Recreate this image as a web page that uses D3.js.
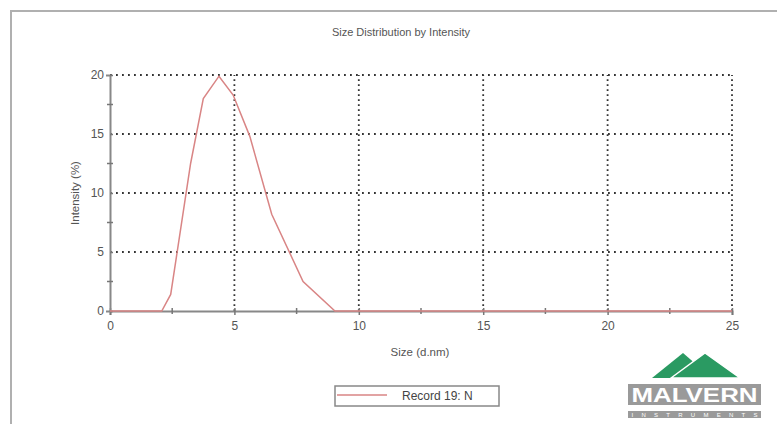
<!DOCTYPE html>
<html>
<head>
<meta charset="utf-8">
<script src="https://cdn.jsdelivr.net/npm/d3@7"></script>
<style>
  html, body { margin: 0; padding: 0; background: #fff; overflow: hidden; }
  svg { display: block; font-family: "Liberation Sans", Arial, sans-serif; }
</style>
</head>
<body>
<div id="chart"></div>
<script>
// Tamaños (d.nm) y su intensidad (%)
const sizes = [0, 2.08, 2.44, 3.24, 3.75, 4.38, 4.95, 5.62, 6.5, 7.76, 9.04, 25];
const intensity = [0, 0, 1.4, 12.5, 18.0, 19.9, 18.3, 14.8, 8.2, 2.5, 0, 0];
const xTicks = [0, 5, 10, 15, 20, 25];
const yTicks = [0, 5, 10, 15, 20];
const xMinor = [2.5, 7.5, 12.5, 17.5, 22.5];
const yMinor = [2.5, 7.5, 12.5, 17.5];
const seriesName = "Record 19: N";

const width = 777, height = 424;
const svg = d3.select("#chart").append("svg")
    .attr("width", width)
    .attr("height", height);

// marco exterior (solo arriba e izquierda se ven)
svg.append("path")
    .attr("d", `M11,${height} L11,11 L${width},11`)
    .attr("fill", "none")
    .attr("stroke", "#b0b0b0")
    .attr("stroke-width", 2);

const x = d3.scaleLinear().domain([0, 25]).range([110, 732]);
const y = d3.scaleLinear().domain([0, 20]).range([311, 75]);

// titulo
svg.append("text")
    .attr("x", 401).attr("y", 36)
    .attr("text-anchor", "middle")
    .attr("font-size", 11)
    .attr("fill", "#555")
    .text("Size Distribution by Intensity");

// rejilla punteada
svg.selectAll("line.hgrid")
    .data(yTicks.filter(d => d > 0))
    .enter().append("line")
    .attr("class", "hgrid")
    .attr("x1", x(0)).attr("x2", x(25))
    .attr("y1", d => y(d)).attr("y2", d => y(d))
    .attr("stroke", "#333")
    .attr("stroke-width", 1.8)
    .attr("stroke-dasharray", "1.8,4.2");

svg.selectAll("line.vgrid")
    .data(xTicks.filter(d => d > 0))
    .enter().append("line")
    .attr("class", "vgrid")
    .attr("x1", d => x(d)).attr("x2", d => x(d))
    .attr("y1", y(0)).attr("y2", y(20))
    .attr("stroke", "#333")
    .attr("stroke-width", 1.8)
    .attr("stroke-dasharray", "1.8,3.2");

// ejes
const xAxis = d3.axisBottom(x).tickValues(xTicks).tickSize(4).tickPadding(6);
const yAxis = d3.axisLeft(y).tickValues(yTicks).tickSize(4).tickPadding(2);

const gx = svg.append("g")
    .attr("transform", `translate(0,${y(0)})`)
    .call(xAxis);
const gy = svg.append("g")
    .attr("transform", `translate(${x(0)},0)`)
    .call(yAxis);

[gx, gy].forEach(g => {
    g.select(".domain").attr("stroke", "#888").attr("stroke-width", 2);
    g.selectAll(".tick line").attr("stroke", "#777").attr("stroke-width", 1.5);
    g.selectAll(".tick text")
        .attr("fill", "#555")
        .attr("font-size", 12)
        .attr("font-family", "'Liberation Sans', Arial, sans-serif");
});
gx.selectAll(".tick line").attr("y1", -3);
gy.selectAll(".tick line").attr("x2", 3);

// marcas menores
svg.selectAll("line.xminor")
    .data(xMinor)
    .enter().append("line")
    .attr("x1", d => x(d)).attr("x2", d => x(d))
    .attr("y1", y(0) - 3).attr("y2", y(0) + 3)
    .attr("stroke", "#777").attr("stroke-width", 1.5);

svg.selectAll("line.yminor")
    .data(yMinor)
    .enter().append("line")
    .attr("x1", x(0) - 3).attr("x2", x(0) + 3)
    .attr("y1", d => y(d)).attr("y2", d => y(d))
    .attr("stroke", "#777").attr("stroke-width", 1.5);

// titulos de ejes
svg.append("text")
    .attr("x", 420).attr("y", 356)
    .attr("text-anchor", "middle")
    .attr("font-size", 11.5)
    .attr("fill", "#555")
    .text("Size (d.nm)");

svg.append("text")
    .attr("transform", "translate(79,193) rotate(-90)")
    .attr("text-anchor", "middle")
    .attr("font-size", 11.5)
    .attr("fill", "#555")
    .text("Intensity (%)");

// curva
const points = sizes.map((s, i) => [s, intensity[i]]);
svg.append("path")
    .datum(points)
    .attr("fill", "none")
    .attr("stroke", "#d98585")
    .attr("stroke-width", 1.5)
    .attr("d", d3.line().x(d => x(d[0])).y(d => y(d[1])));

// leyenda
svg.append("rect")
    .attr("x", 335).attr("y", 386)
    .attr("width", 164).attr("height", 20)
    .attr("fill", "#fff")
    .attr("stroke", "#888")
    .attr("stroke-width", 1.5);
svg.append("line")
    .attr("x1", 337).attr("x2", 387)
    .attr("y1", 395).attr("y2", 395)
    .attr("stroke", "#d98585")
    .attr("stroke-width", 1.5);
svg.append("text")
    .attr("x", 402).attr("y", 400)
    .attr("font-size", 12)
    .attr("fill", "#444")
    .text(seriesName);

// logotipo Malvern
const logo = svg.append("g");
logo.append("polygon")
    .attr("points", "652,378 683,353 712,378")
    .attr("fill", "#2a9a62");
logo.append("polygon")
    .attr("points", "671,378 705,353 740,378")
    .attr("fill", "#2a9a62")
    .attr("stroke", "#fff")
    .attr("stroke-width", 1.5);
logo.append("rect")
    .attr("x", 628).attr("y", 384)
    .attr("width", 133).attr("height", 21)
    .attr("fill", "#9a9a9a");
logo.append("text")
    .attr("x", 694.5).attr("y", 402)
    .attr("text-anchor", "middle")
    .attr("font-size", 20)
    .attr("font-weight", "bold")
    .attr("textLength", 126)
    .attr("lengthAdjust", "spacingAndGlyphs")
    .attr("fill", "#fff")
    .text("MALVERN");
logo.append("rect")
    .attr("x", 628).attr("y", 411)
    .attr("width", 133).attr("height", 7)
    .attr("fill", "#9a9a9a");
logo.append("text")
    .attr("x", 694.5).attr("y", 417)
    .attr("text-anchor", "middle")
    .attr("font-size", 6)
    .attr("textLength", 126)
    .attr("lengthAdjust", "spacing")
    .attr("fill", "#fff")
    .text("INSTRUMENTS");
</script>
</body>
</html>
